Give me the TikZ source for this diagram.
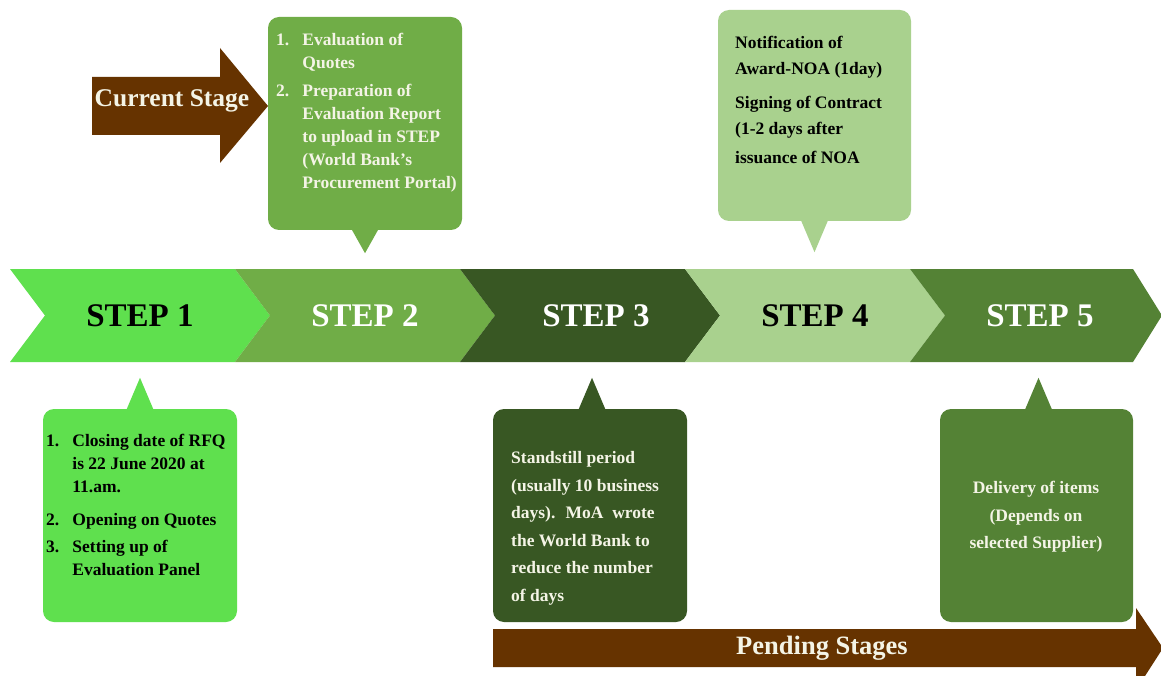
\documentclass[tikz,border=0pt]{standalone}
\usepackage{fontspec}
\setmainfont{Liberation Serif}
\usetikzlibrary{calc}
\definecolor{gA}{HTML}{5FE04E}
\definecolor{gB}{HTML}{70AD47}
\definecolor{gC}{HTML}{385723}
\definecolor{gD}{HTML}{A9D18E}
\definecolor{gE}{HTML}{548235}
\definecolor{brn}{HTML}{663300}
\definecolor{cream}{HTML}{F4F4E6}
\tikzset{
 lbl/.style={font=\fontsize{33}{36}\selectfont\bfseries, inner sep=0pt},
 callbox/.style={rounded corners=11pt, minimum width=194pt, minimum height=213pt, inner sep=0pt, draw=none},
 ctext/.style={align=left, inner sep=0pt, anchor=north west},
 big/.style={font=\fontsize{25.5}{28}\selectfont\bfseries, text=cream, inner sep=0pt},
}
\newcommand\numb[1]{\makebox[1.5em][l]{#1}}
\newcommand\ind{\hspace*{1.5em}}
\begin{document}
\begin{tikzpicture}[x=1pt,y=-1pt]
\useasboundingbox (0,0) rectangle (1161,676);
\fill[white] (0,0) rectangle (1161,676);
% chevrons
\fill[gA] (10,269) -- (235,269) -- (270,315.5) -- (235,362) -- (10,362) -- (45,315.5) -- cycle;
\fill[gB] (235,269) -- (460,269) -- (495,315.5) -- (460,362) -- (235,362) -- (270,315.5) -- cycle;
\fill[gC] (460,269) -- (685,269) -- (720,315.5) -- (685,362) -- (460,362) -- (495,315.5) -- cycle;
\fill[gD] (685,269) -- (910,269) -- (945,315.5) -- (910,362) -- (685,362) -- (720,315.5) -- cycle;
\fill[gE] (910,269) -- (1133,269) -- (1162,315.5) -- (1133,362) -- (910,362) -- (945,315.5) -- cycle;
\node[lbl, text=black] (s1) at (140,316) {STEP 1};
\node[lbl, text=white] (s2) at (365,316) {STEP 2};
\node[lbl, text=white] (s3) at (596,316) {STEP 3};
\node[lbl, text=black] (s4) at (815,316) {STEP 4};
\node[lbl, text=white] (s5) at (1040,316) {STEP 5};
% callout boxes
\node[callbox, fill=gB] (c2) at (365,123.5) {};
\fill[gB] ($(c2.south)+(-14,-2)$) -- ($(c2.south)+(0,23)$) -- ($(c2.south)+(14,-2)$) -- cycle;
\node[callbox, fill=gD, minimum width=193pt, minimum height=211pt] (c4) at (814.5,115.5) {};
\fill[gD] ($(c4.south)+(-14,-2)$) -- ($(c4.south)+(0,31)$) -- ($(c4.south)+(14,-2)$) -- cycle;
\node[callbox, fill=gA] (c1) at (140,515.5) {};
\fill[gA] ($(c1.north)+(-14,2)$) -- ($(c1.north)+(0,-31)$) -- ($(c1.north)+(14,2)$) -- cycle;
\node[callbox, fill=gC] (c3) at (590,515.5) {};
\fill[gC] ($(c3.north)+(-12,2)$) -- ($(c3.north)+(2,-31)$) -- ($(c3.north)+(16,2)$) -- cycle;
\node[callbox, fill=gE, minimum width=193pt] (c5) at (1036.5,515.5) {};
\fill[gE] ($(c5.north)+(-12,2)$) -- ($(c5.north)+(2,-31)$) -- ($(c5.north)+(16,2)$) -- cycle;
% callout texts
\node[ctext, text=cream, font=\fontsize{17.5}{23}\selectfont\bfseries] (t2) at (276,33)
 {\numb{1.}Evaluation of\\ \ind Quotes\\[5pt]
  \numb{2.}Preparation of\\ \ind Evaluation Report\\ \ind to upload in STEP\\ \ind (World Bank's\\ \ind Procurement Portal)};
\node[ctext, text=black, font=\fontsize{17.5}{26}\selectfont\bfseries] (t4) at (735,36)
 {Notification of\\ Award-NOA (1day)\\[8pt] Signing of Contract\\ (1-2 days after\\[3pt] issuance of NOA};
\node[ctext, text=black, font=\fontsize{17.5}{23}\selectfont\bfseries] (t1) at (46,433.5)
 {\numb{1.}Closing date of RFQ\\ \ind is 22 June 2020 at\\ \ind 11.am.\\[10pt]
  \numb{2.}Opening on Quotes\\[4pt] \numb{3.}Setting up of\\ \ind Evaluation Panel};
\node[ctext, text=cream, font=\fontsize{17.5}{27.5}\selectfont\bfseries] (t3) at (511,451.5)
 {Standstill period\\ (usually 10 business\\ days).~ MoA~ wrote\\ the World Bank to\\ reduce the number\\ of days};
\node[align=center, inner sep=0pt, anchor=north, text=cream, font=\fontsize{17.5}{27.5}\selectfont\bfseries] (t5) at (1036,481)
 {Delivery of items\\ (Depends on\\ selected Supplier)};
% current stage arrow
\fill[brn] (92,77) -- (220,77) -- (220,48) -- (268,106) -- (220,163) -- (220,135) -- (92,135) -- cycle;
\node[big] (cur) at (172,101) {Current Stage};
% pending stages arrow
\fill[brn] (493,629) -- (1136,629) -- (1136,608) -- (1163,648) -- (1136,690) -- (1136,667) -- (493,667) -- cycle;
\node[big, font=\fontsize{26.5}{29}\selectfont\bfseries] (pend) at (822,648) {Pending Stages};
\end{tikzpicture}
\end{document}
